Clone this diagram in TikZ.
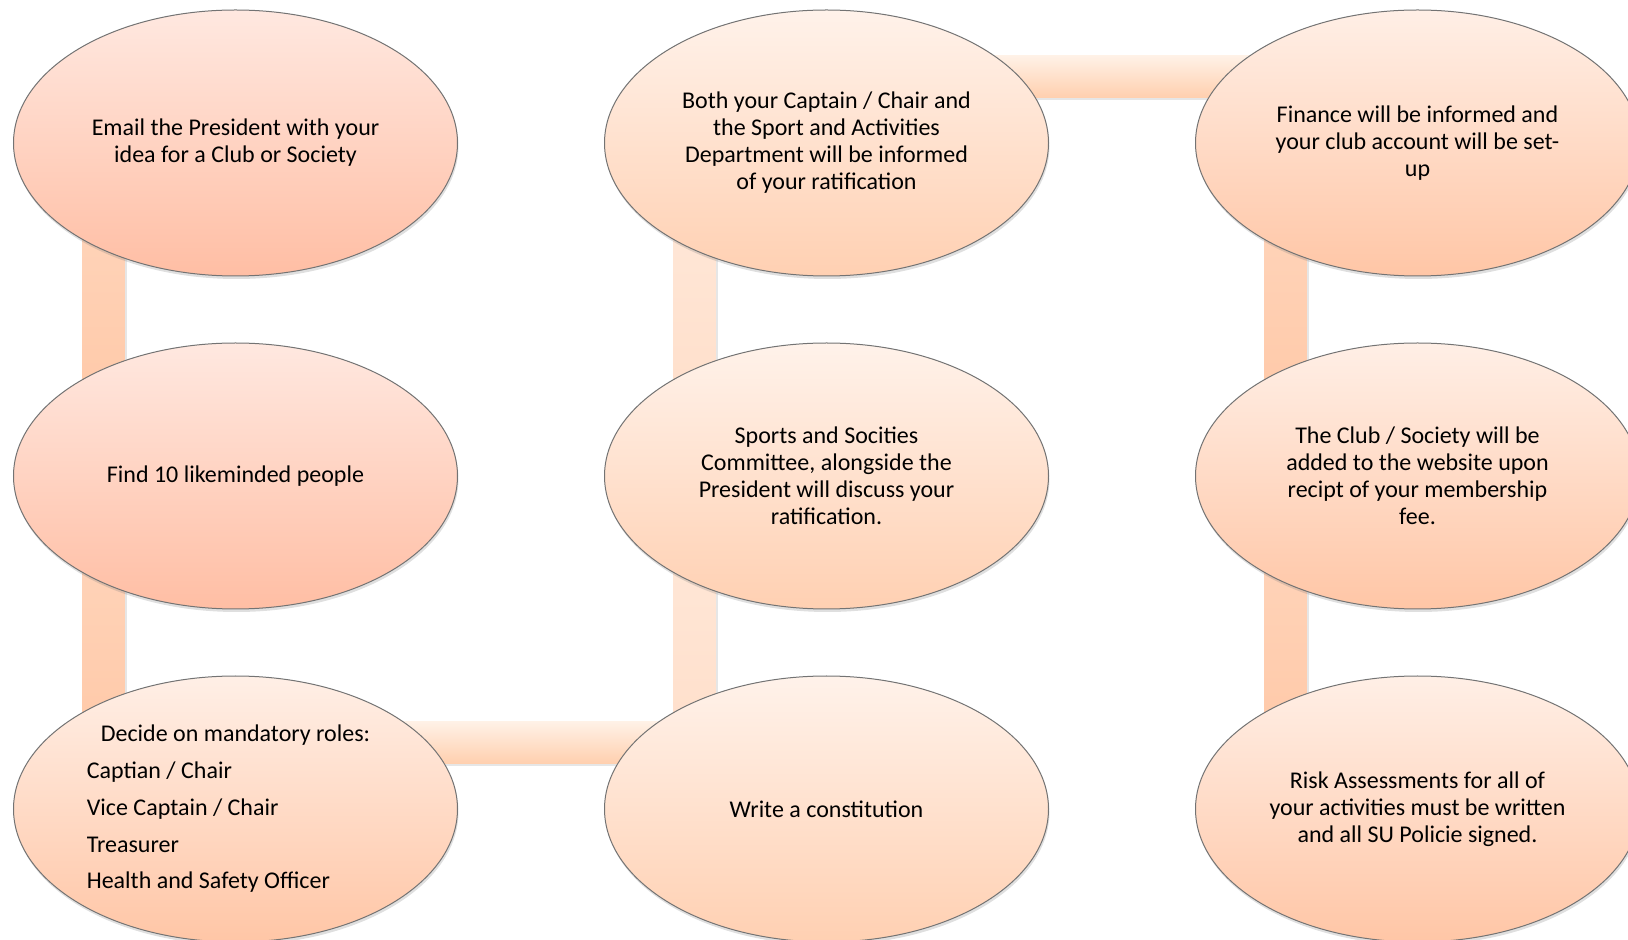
\documentclass[tikz,border=0pt]{standalone}
\usepackage{fontspec}
\setmainfont{Carlito}
\usepackage{xcolor}
\usetikzlibrary{positioning, shapes.geometric, calc, shadows, backgrounds}

\definecolor{stagetop}{HTML}{FFEFE6}
\definecolor{stagebot}{HTML}{FFC6A6}
\definecolor{pinktop}{HTML}{FFE8E0}
\definecolor{pinkbot}{HTML}{FFBEA4}
\definecolor{paletop}{HTML}{FFF2EA}
\definecolor{palebot}{HTML}{FFD0B2}
\definecolor{bandtop}{HTML}{FFD8C0}
\definecolor{bandbot}{HTML}{FFC5A2}
\definecolor{palebandtop}{HTML}{FFEADC}
\definecolor{palebandbot}{HTML}{FFDCC6}
\definecolor{hbandtop}{HTML}{FFF1E6}
\definecolor{hbandbot}{HTML}{FFCFAE}

\begin{document}
\begin{tikzpicture}[
  x=0.5pt, y=0.5pt,
  node distance=33pt and 73pt,
  stage/.style={ellipse, draw=black!55, line width=0.5pt, minimum width=222pt, minimum height=133pt, inner sep=0pt, align=center, font=\fontsize{12}{13.5}\selectfont, top color=stagetop, bottom color=stagebot, drop shadow={shadow xshift=0.5pt, shadow yshift=-1.5pt, opacity=0.25}},
  pinkstage/.style={stage, top color=pinktop, bottom color=pinkbot},
  palestage/.style={stage, top color=paletop, bottom color=palebot},
  band/.style={top color=bandtop, bottom color=bandbot, drop shadow={shadow xshift=1.2pt, shadow yshift=-1pt, opacity=0.2}},
  paleband/.style={band, top color=palebandtop, bottom color=palebandbot},
  hband/.style={band, top color=hbandtop, bottom color=hbandbot}
]
\useasboundingbox (-235.5,143) rectangle ++(1628,-940);
% first column, going down
\node[pinkstage] (email) at (0,0) {Email the President with your\\idea for a Club or Society};
\node[pinkstage, below=of email] (find) {Find 10 likeminded people};
\node[stage, below=of find, align=left, font=\fontsize{12}{18.4}\selectfont] (decide) {\hspace*{7pt}Decide on mandatory roles:\hspace*{7pt}\\Captian / Chair\\Vice Captain / Chair\\Treasurer\\Health and Safety Officer};
% second column, going up
\node[palestage, right=of decide] (write) {Write a constitution};
\node[palestage, above=of write] (sports) {Sports and Socities\\Committee, alongside the\\President will discuss your\\ratification.};
\node[palestage, above=of sports] (both) {Both your Captain / Chair and\\the Sport and Activities\\Department will be informed\\of your ratification};
% third column, going down
\node[stage, right=of both] (finance) {Finance will be informed and\\your club account will be set-\\up};
\node[stage, below=of finance] (website) {The Club / Society will be\\added to the website upon\\recipt of your membership\\fee.};
\node[stage, below=of website] (risk) {Risk Assessments for all of\\your activities must be written\\and all SU Policie signed.};

\begin{scope}[on background layer]
\path[band] ($(email.center)+(-153,0)$) rectangle ($(find.center)+(-111,0)$);
\path[band] ($(find.center)+(-153,0)$) rectangle ($(decide.center)+(-111,0)$);
\path[hband] ($(decide.center)+(0,87)$) rectangle ($(write.center)+(-111,45)$);
\path[paleband] ($(write.center)+(-153,0)$) rectangle ($(sports.center)+(-111,0)$);
\path[paleband] ($(sports.center)+(-153,0)$) rectangle ($(both.center)+(-111,0)$);
\path[hband] ($(both.center)+(-153,87)$) rectangle ($(finance.center)+(0,45)$);
\path[band] ($(finance.center)+(-153,0)$) rectangle ($(website.center)+(-111,0)$);
\path[band] ($(website.center)+(-153,0)$) rectangle ($(risk.center)+(-111,0)$);
\end{scope}
\end{tikzpicture}
\end{document}
